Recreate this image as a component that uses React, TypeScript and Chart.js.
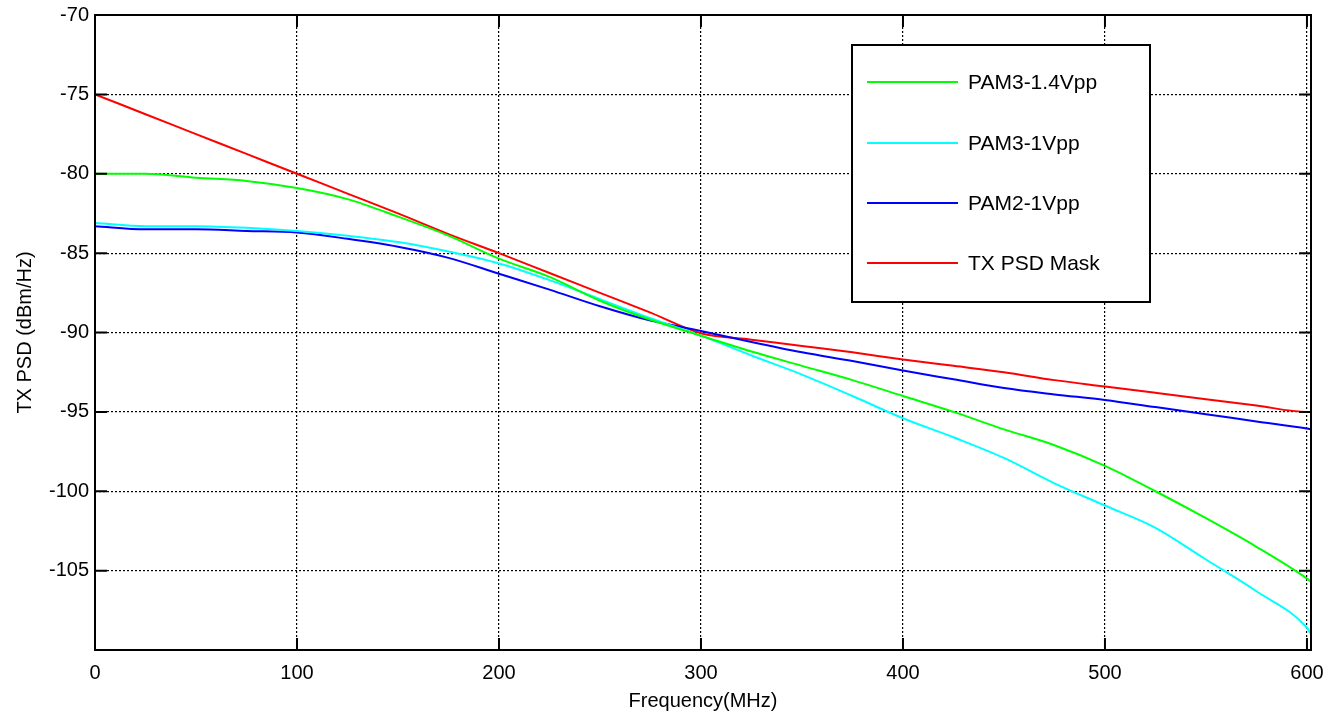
import React, { useEffect, useRef } from "react";
import { Chart, registerables } from "chart.js";

Chart.register(...registerables);

const freqs = [0, 25, 50, 75, 100, 125, 150, 175, 200, 225, 250, 275, 300, 325, 350, 375, 400, 425, 450, 475, 500, 525, 550, 575, 600, 602];

const pam3_14 = [-80.0, -80.0, -80.25, -80.45, -80.9, -81.6, -82.7, -83.9, -85.35, -86.5, -88.0, -89.2, -90.2, -91.2, -92.1, -93.0, -94.0, -95.0, -96.1, -97.1, -98.4, -100.0, -101.7, -103.5, -105.5, -105.7];
const pam3_1 = [-83.1, -83.3, -83.3, -83.4, -83.6, -83.9, -84.3, -84.9, -85.65, -86.7, -87.9, -89.1, -90.2, -91.45, -92.65, -94.0, -95.4, -96.6, -97.9, -99.5, -100.9, -102.3, -104.3, -106.3, -108.6, -109.0];
const pam2_1 = [-83.3, -83.5, -83.5, -83.6, -83.7, -84.1, -84.6, -85.3, -86.3, -87.3, -88.35, -89.25, -89.9, -90.6, -91.25, -91.8, -92.4, -92.95, -93.5, -93.9, -94.25, -94.7, -95.15, -95.6, -96.05, -96.1];
const mask = [-75, -76.25, -77.5, -78.75, -80, -81.25, -82.5, -83.8, -85, -86.25, -87.5, -88.75, -90.05, -90.45, -90.85, -91.25, -91.7, -92.1, -92.5, -93.0, -93.4, -93.8, -94.2, -94.6, -95.0, -95.0];

const seriesNames = ["PAM3-1.4Vpp", "PAM3-1Vpp", "PAM2-1Vpp", "TX PSD Mask"];
const seriesColors = ["#00ff00", "#00ffff", "#0000ff", "#ff0000"];

const xTicks = [0, 100, 200, 300, 400, 500, 600];
const yTicks = [-70, -75, -80, -85, -90, -95, -100, -105, -110];
const yLabelled = [-70, -75, -80, -85, -90, -95, -100, -105];

const FONT = "'Liberation Sans', Arial, sans-serif";

const framePlugin = {
  id: "frameAndLegend",
  afterDraw(chart: any) {
    const { ctx, chartArea } = chart;
    const { left, right, top, bottom } = chartArea;
    const xs = chart.scales.x;
    const ys = chart.scales.y;
    ctx.save();
    ctx.strokeStyle = "#000";
    ctx.lineWidth = 2;
    ctx.setLineDash([]);
    const tl = 12;
    ctx.beginPath();
    xTicks.forEach((v) => {
      const px = xs.getPixelForValue(v);
      ctx.moveTo(px, bottom);
      ctx.lineTo(px, bottom - tl);
      ctx.moveTo(px, top);
      ctx.lineTo(px, top + tl);
    });
    yTicks.forEach((v) => {
      const py = ys.getPixelForValue(v);
      ctx.moveTo(left, py);
      ctx.lineTo(left + tl, py);
      ctx.moveTo(right, py);
      ctx.lineTo(right - tl, py);
    });
    ctx.stroke();
    ctx.strokeRect(left, top, right - left, bottom - top);

    const bx = 852, by = 45, bw = 298, bh = 257;
    ctx.fillStyle = "#fff";
    ctx.fillRect(bx, by, bw, bh);
    ctx.lineWidth = 2;
    ctx.strokeStyle = "#000";
    ctx.strokeRect(bx, by, bw, bh);
    const rows = [82, 143, 203, 263];
    ctx.font = `21px ${FONT}`;
    ctx.textBaseline = "middle";
    ctx.textAlign = "left";
    chart.data.datasets.forEach((ds: any, i: number) => {
      const y = rows[i];
      ctx.strokeStyle = ds.borderColor;
      ctx.lineWidth = 2;
      ctx.beginPath();
      ctx.moveTo(867, y);
      ctx.lineTo(958, y);
      ctx.stroke();
      ctx.fillStyle = "#000";
      ctx.fillText(ds.label, 968, y + 1);
    });
    ctx.restore();
  },
};

export default function App() {
  const ref = useRef<HTMLCanvasElement | null>(null);

  useEffect(() => {
    document.body.style.margin = "0";
    const all = [pam3_14, pam3_1, pam2_1, mask];
    const chart = new Chart(ref.current as HTMLCanvasElement, {
      type: "line",
      data: {
        datasets: all.map((vals, i) => ({
          label: seriesNames[i],
          data: freqs.map((f, j) => ({ x: f, y: vals[j] })),
          borderColor: seriesColors[i],
          backgroundColor: seriesColors[i],
          borderWidth: 2,
          pointRadius: 0,
          fill: false,
          cubicInterpolationMode: "monotone",
        })),
      },
      options: {
        animation: false,
        responsive: true,
        maintainAspectRatio: false,
        layout: { padding: { top: 15, right: 17, left: 0, bottom: 0 } },
        plugins: { legend: { display: false }, tooltip: { enabled: false } },
        scales: {
          x: {
            type: "linear",
            min: 0,
            max: 602,
            afterBuildTicks: (s: any) => {
              s.ticks = xTicks.map((v) => ({ value: v }));
            },
            afterFit: (s: any) => {
              s.height = 66;
              s.paddingLeft = 0;
              s.paddingRight = 0;
            },
            ticks: {
              color: "#000",
              padding: 11,
              maxRotation: 0,
              autoSkip: false,
              font: { family: FONT, size: 20 },
            },
            grid: { color: "#000", lineWidth: 1.2, drawTicks: false },
            border: { display: false, dash: [2, 2] },
            title: {
              display: true,
              text: "Frequency(MHz)",
              color: "#000",
              font: { family: FONT, size: 20 },
              padding: { top: 3, bottom: 3 },
            },
          },
          y: {
            type: "linear",
            min: -110,
            max: -70,
            afterBuildTicks: (s: any) => {
              s.ticks = yTicks.map((v) => ({ value: v }));
            },
            afterFit: (s: any) => {
              s.width = 95;
              s.paddingTop = 0;
              s.paddingBottom = 0;
            },
            ticks: {
              color: "#000",
              padding: 6,
              autoSkip: false,
              font: { family: FONT, size: 20 },
              callback: (v: any) => (yLabelled.includes(Number(v)) ? String(v) : ""),
            },
            grid: { color: "#000", lineWidth: 1.2, drawTicks: false },
            border: { display: false, dash: [2, 2] },
            title: {
              display: true,
              text: "TX PSD (dBm/Hz)",
              color: "#000",
              font: { family: FONT, size: 20 },
              padding: { top: 13, bottom: 13 },
            },
          },
        },
      },
      plugins: [framePlugin],
    } as any);
    return () => chart.destroy();
  }, []);

  return (
    <div style={{ position: "absolute", left: 0, top: 0, width: 1328, height: 716, background: "#fff" }}>
      <canvas ref={ref} />
    </div>
  );
}
